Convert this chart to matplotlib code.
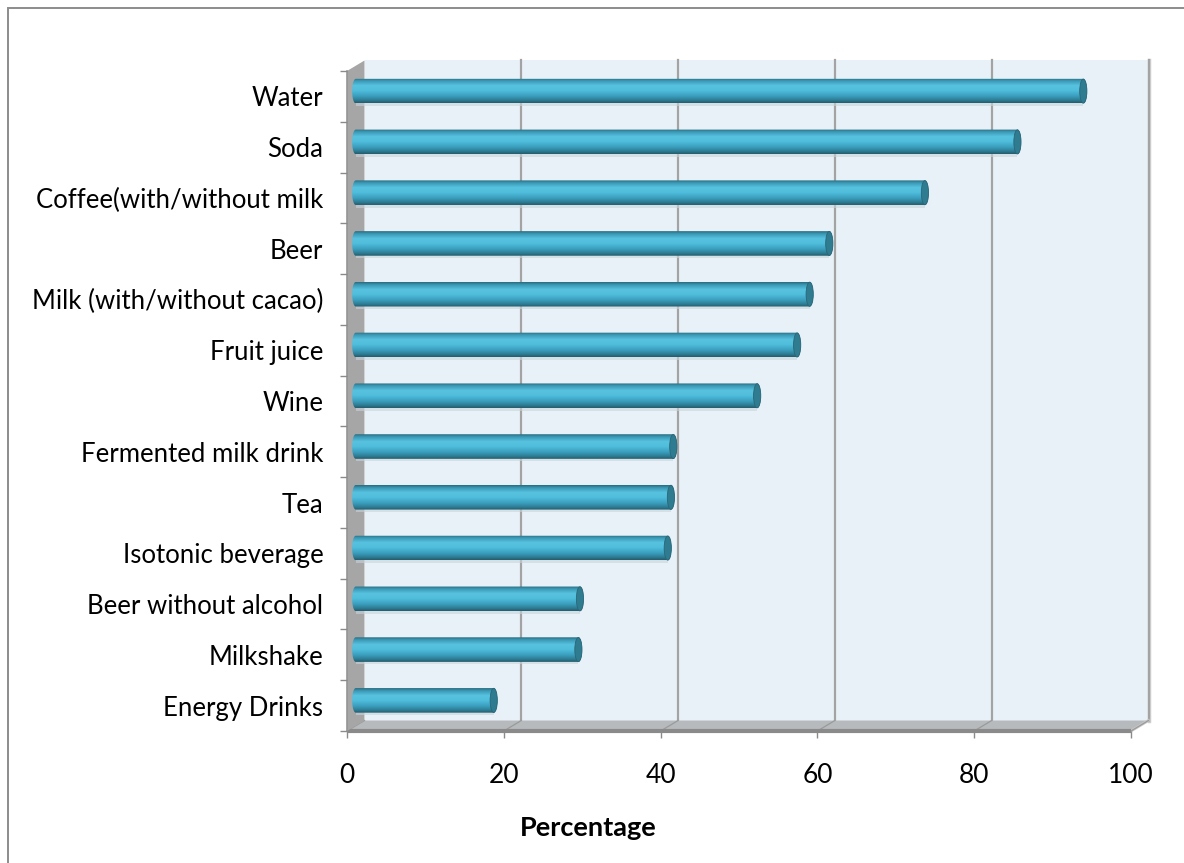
import numpy as np
import matplotlib
matplotlib.use("Agg")
import matplotlib.pyplot as plt
from matplotlib.patches import Polygon, Rectangle, Ellipse, PathPatch
from matplotlib.path import Path
from matplotlib.colors import LinearSegmentedColormap

# ---- data -------------------------------------------------------------
drinks = [
    "Water",
    "Soda",
    "Coffee(with/without milk",
    "Beer",
    "Milk (with/without cacao)",
    "Fruit juice",
    "Wine",
    "Fermented milk drink",
    "Tea",
    "Isotonic beverage",
    "Beer without alcohol",
    "Milkshake",
    "Energy Drinks",
]
percent = [92.8, 84.4, 72.6, 60.4, 57.9, 56.3, 51.2, 40.5, 40.2, 39.8, 28.6, 28.4, 17.6]
x_ticks = [0, 20, 40, 60, 80, 100]
x_label = "Percentage"

plt.rcParams["font.family"] = ["Lato", "DejaVu Sans"]

W, H = 1184, 863
fig = plt.figure(figsize=(W / 100, H / 100), dpi=100)

# chart frame (left and top edges visible)
fig.patches.append(Rectangle((8 / W, -0.1), 1.2, (H - 8) / H + 0.1,
                             transform=fig.transFigure, fill=False,
                             ec="#8c8c8c", lw=1.4))

# front plane of the 3-D plot area
left_px, right_px, top_px, bottom_px = 347, 1131, 71, 731
ax = fig.add_axes([left_px / W, (H - bottom_px) / H,
                   (right_px - left_px) / W, (bottom_px - top_px) / H])
n = len(drinks)
xmax = x_ticks[-1]
ax.set_xlim(0, xmax)
ax.set_ylim(0, n)
ax.patch.set_visible(False)
for s in ax.spines.values():
    s.set_visible(False)

# depth offset of the back plane, in data units
px_x = (right_px - left_px) / xmax
px_y = (bottom_px - top_px) / n
DX = 17.5 / px_x
DY = 10.5 / px_y

# back wall
ax.add_patch(Rectangle((DX, DY), xmax, n, fc="#e9f1f8", ec="none",
                       zorder=0, clip_on=False))
for v in x_ticks[1:-1]:
    ax.plot([v + DX, v + DX], [DY, n + DY], color="#a3a3a3", lw=1.6,
            zorder=0.5, clip_on=False)
# right edge of back wall with a soft shadow
ax.plot([xmax + DX + 0.12, xmax + DX + 0.12], [DY, n + DY], color="#d0d0d0",
        lw=2.5, zorder=0.4, clip_on=False)
ax.plot([xmax + DX, xmax + DX], [DY, n + DY], color="#a3a3a3", lw=1.6,
        zorder=0.5, clip_on=False)

# floor
ax.add_patch(Polygon([(0, 0), (xmax, 0), (xmax + DX, DY), (DX, DY)],
                     closed=True, fc="#b6babd", ec="none", zorder=0.6,
                     clip_on=False))
for v in x_ticks:
    ax.plot([v, v + DX], [0, DY], color="#9a9a9a", lw=0.9, zorder=0.7,
            clip_on=False)
ax.plot([xmax, xmax + DX], [0, DY], color="#c8c8c8", lw=2.0, zorder=0.65,
        clip_on=False)
ax.plot([0, xmax], [0, 0], color="#8a8a8a", lw=3.0, zorder=0.8,
        clip_on=False, solid_capstyle="butt")

# left side wall
ax.add_patch(Polygon([(0, 0), (DX, DY), (DX, n + DY), (0, n)], closed=True,
                     fc="#a6a6a6", ec="none", zorder=0.9, clip_on=False))
ax.plot([0, 0], [0, n], color="#959595", lw=1.2, zorder=0.95, clip_on=False)

# cylinder shading
cyl = LinearSegmentedColormap.from_list("cyl", [
    (0.00, "#2a6c7f"),
    (0.10, "#3a97b4"),
    (0.30, "#58c3e0"),
    (0.50, "#50bddc"),
    (0.72, "#3b9fbf"),
    (0.88, "#2f7f98"),
    (1.00, "#245d6d"),
])
grad = np.linspace(0, 1, 64).reshape(-1, 1)

h = 12.3 / px_y          # half thickness of a bar
a = 3.6 / px_x           # horizontal radius of the end caps
for i, (name, v) in enumerate(zip(drinks, percent)):
    yc = (n - 1 - i) + 0.5 + DY / 2
    x0 = DX / 2
    x1 = v + DX / 2
    t_r = np.linspace(-np.pi / 2, np.pi / 2, 40)
    t_l = np.linspace(np.pi / 2, 3 * np.pi / 2, 40)
    verts = np.vstack([
        np.column_stack([x1 + a * np.cos(t_r), yc + h * np.sin(t_r)]),
        np.column_stack([x0 + a * np.cos(t_l), yc + h * np.sin(t_l)]),
    ])
    verts = np.vstack([verts, verts[:1]])
    codes = [Path.MOVETO] + [Path.LINETO] * (len(verts) - 2) + [Path.CLOSEPOLY]
    outline = PathPatch(Path(verts, codes), fc="none", ec="none",
                        transform=ax.transData)
    ax.add_patch(outline)
    # faint shadow below the bar
    ax.add_patch(Rectangle((x0, yc - h - 0.05), v, 0.06, fc="#c9d3da",
                           ec="none", alpha=0.6, zorder=1.5, clip_on=False))
    im = ax.imshow(grad, extent=[x0 - a, x1 + a, yc - h, yc + h],
                   aspect="auto", cmap=cyl, origin="upper",
                   interpolation="bilinear", zorder=2)
    im.set_clip_path(outline)
    ax.add_patch(Ellipse((x1, yc), 2 * a, 2 * h * 0.98, fc="#2f7b90",
                         ec="#2a6677", lw=0.6, zorder=3))

ax.set_xlim(0, xmax)
ax.set_ylim(0, n)
ax.set_aspect("auto")

# axes ticks and labels
ax.set_xticks(x_ticks)
ax.set_xticklabels([str(t) for t in x_ticks])
ax.tick_params(axis="x", length=5, width=1, color="#8a8a8a", pad=18,
               labelsize=19, labelcolor="black")
ax.set_yticks(np.arange(n) + 0.5)
ax.set_yticklabels(drinks[::-1])
ax.set_yticks(np.arange(n + 1), minor=True)
ax.tick_params(axis="y", which="major", length=0, pad=17, labelsize=18.5,
               labelcolor="black")
ax.tick_params(axis="y", which="minor", length=5, width=1, color="#8a8a8a")

fig.text(588 / W, 1 - 828 / H, x_label, ha="center", va="center",
         fontsize=19.5, fontweight="bold", color="black")

fig.savefig("out.png", dpi=100)
